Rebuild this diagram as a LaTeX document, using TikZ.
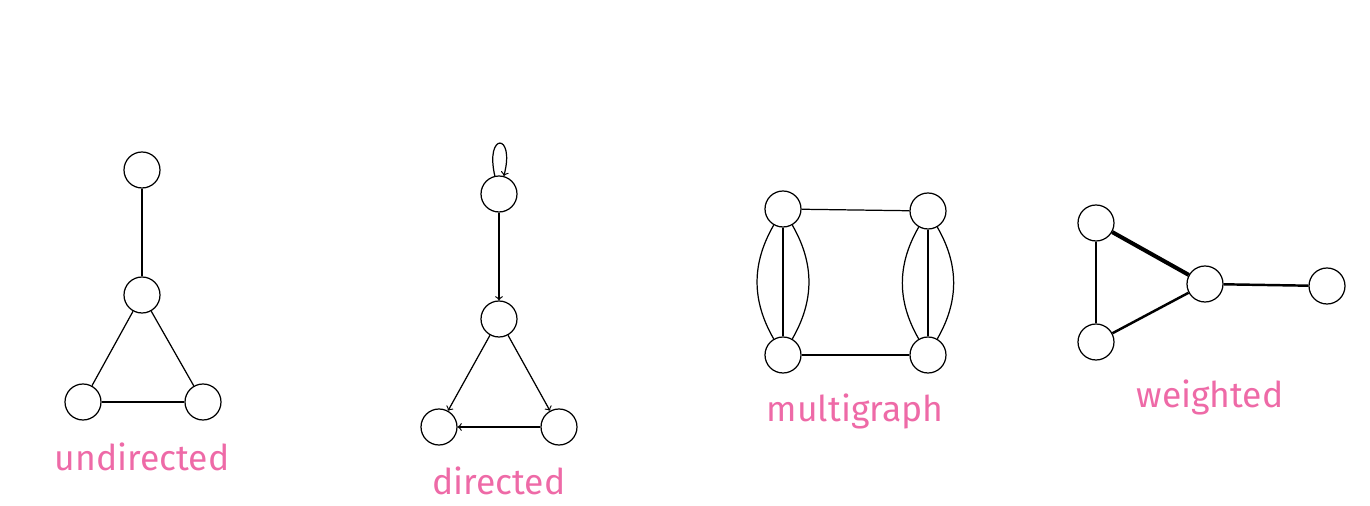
\documentclass[tikz,border=0pt]{standalone}
\usepackage{fontspec}
\setmainfont{Fira Sans}
\definecolor{labelpink}{HTML}{EE6AA7}
\tikzset{
    vert/.style={circle, draw, line width=0.7pt, minimum size=0.72cm, inner sep=0pt},
    caption/.style={text=labelpink, font=\fontsize{20.2}{24}\selectfont},
}
\begin{document}
\begin{tikzpicture}[x=0.02cm, y=-0.02cm, line width=0.7pt]
    \useasboundingbox (0,0) rectangle (1370,506);

    % undirected
    \node[vert] (u1) at (142, 170) {};
    \node[vert] (u2) at (142, 295) {};
    \node[vert] (u3) at ( 83, 402) {};
    \node[vert] (u4) at (203, 402) {};
    \node[caption] (ulab) at (142, 457) {undirected};

    % directed
    \node[vert] (d1) at (499, 194) {};
    \node[vert] (d2) at (499, 319) {};
    \node[vert] (d3) at (439, 427) {};
    \node[vert] (d4) at (559, 427) {};
    \node[caption] (dlab) at (499, 481) {directed};

    % multigraph
    \node[vert] (m1) at (783, 209) {};
    \node[vert] (m2) at (928, 211) {};
    \node[vert] (m3) at (783, 355) {};
    \node[vert] (m4) at (928, 355) {};
    \node[caption] (mlab) at (855, 411) {multigraph};

    % weighted
    \node[vert] (w1) at (1096, 223) {};
    \node[vert] (w2) at (1096, 342) {};
    \node[vert] (w3) at (1205, 284) {};
    \node[vert] (w4) at (1327, 286) {};
    \node[caption] (wlab) at (1210, 397) {weighted};

    \draw (u1) -- (u2);
    \draw (u2) -- (u3);
    \draw (u2) -- (u4);
    \draw (u3) -- (u4);

    \begin{scope}[every path/.style={->}]
       \draw (d1) edge[out=103, in=75, looseness=8, min distance=0.9cm] (d1);
       \draw (d1) -- (d2);
       \draw (d2) -- (d3);
       \draw (d2) -- (d4);
       \draw (d4) -- (d3);
    \end{scope}

    \draw (m1) -- (m2);
    \draw (m3) -- (m4);
    \draw (m1) -- (m3);
    \draw (m1) to[bend left=30] (m3);
    \draw (m1) to[bend right=30] (m3);
    \draw (m2) -- (m4);
    \draw (m2) to[bend left=30] (m4);
    \draw (m2) to[bend right=30] (m4);

    \draw (w1) -- (w2);
    \draw[line width=2.3pt] (w1) -- (w3);
    \draw[line width=1.4pt] (w2) -- (w3);
    \draw[line width=1.4pt] (w3) -- (w4);
\end{tikzpicture}
\end{document}
